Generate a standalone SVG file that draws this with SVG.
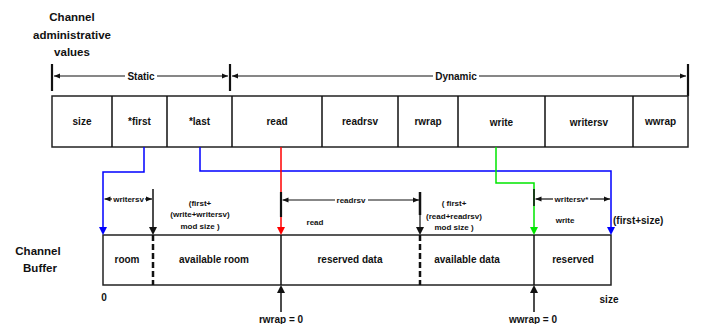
<svg xmlns="http://www.w3.org/2000/svg" width="704" height="324" viewBox="0 0 704 324">
<style>
text{font-family:"Liberation Sans",Arial,sans-serif;font-weight:bold;fill:#111;text-anchor:middle}
.t11{font-size:11.5px}
.t10{font-size:10px}
.t8{font-size:8px}
.ln{stroke:#111;stroke-width:1.2;fill:none}
.bx{stroke:#222;stroke-width:1.5;fill:#fff}
.tk{stroke:#111;stroke-width:2.2}
</style>
<defs>
<marker id="dm" viewBox="0 0 6 6" refX="6" refY="3" markerWidth="6" markerHeight="6" markerUnits="userSpaceOnUse" orient="auto"><path d="M0,0.5L6,3L0,5.5z" fill="#111"/></marker>
</defs>
<g id="title">
<text class="t11" x="72" y="21">Channel</text>
<text class="t11" x="72" y="39">administrative</text>
<text class="t11" x="72" y="56">values</text>
</g>
<g id="scope">
<line class="tk" x1="52" y1="64" x2="52" y2="91"/>
<line class="tk" x1="230" y1="64" x2="230" y2="91"/>
<line class="tk" x1="688" y1="64" x2="688" y2="96"/>
<line class="ln" x1="125" y1="76" x2="54" y2="76" marker-end="url(#dm)"/>
<line class="ln" x1="157" y1="76" x2="228" y2="76" marker-end="url(#dm)"/>
<text class="t10" x="141" y="80">Static</text>
<line class="ln" x1="433" y1="76" x2="232" y2="76" marker-end="url(#dm)"/>
<line class="ln" x1="479" y1="76" x2="686" y2="76" marker-end="url(#dm)"/>
<text class="t10" x="456" y="80">Dynamic</text>
</g>
<g id="admin">
<rect class="bx" x="52" y="96" width="636" height="51"/>
<path class="ln" d="M112,96V147M167,96V147M232,96V147M322,96V147M398,96V147M458,96V147M545,96V147M633,96V147" style="stroke-width:1.5"/>
<text class="t10" x="82" y="125">size</text>
<text class="t10" x="139.5" y="125">*first</text>
<text class="t10" x="199.5" y="125">*last</text>
<text class="t10" x="277" y="125">read</text>
<text class="t10" x="360" y="125">readrsv</text>
<text class="t10" x="428" y="125">rwrap</text>
<text class="t10" x="501.5" y="126">write</text>
<text class="t10" x="589" y="126">writersv</text>
<text class="t10" x="660.5" y="125">wwrap</text>
</g>
<g id="buffer">
<rect class="bx" x="103" y="235" width="508" height="50"/>
<line x1="153" y1="235" x2="153" y2="285" stroke="#111" stroke-width="2.5" stroke-dasharray="6,3"/>
<line x1="420" y1="235" x2="420" y2="285" stroke="#111" stroke-width="2.5" stroke-dasharray="6,3"/>
<line x1="281" y1="235" x2="281" y2="285" stroke="#111" stroke-width="1.5"/>
<line x1="534" y1="235" x2="534" y2="285" stroke="#111" stroke-width="1.5"/>
<text class="t10" x="127" y="263">room</text>
<text class="t10" x="214" y="263">available room</text>
<text class="t10" x="350" y="263">reserved data</text>
<text class="t10" x="467" y="263">available data</text>
<text class="t10" x="573" y="263">reserved</text>
<text class="t11" x="38" y="255">Channel</text>
<text class="t11" x="40" y="272">Buffer</text>
<text class="t10" x="104" y="301">0</text>
<text class="t10" x="609" y="303">size</text>
</g>
<g id="connectors">
<path d="M144,147V172H103V228" stroke="#0000ff" stroke-width="1.5" fill="none"/>
<path d="M99,227L107,227L103,235z" fill="#0000ff"/>
<path d="M200,147V171H611V228" stroke="#0000ff" stroke-width="1.5" fill="none"/>
<path d="M607,227L615,227L611,235z" fill="#0000ff"/>
<path d="M281,147V228" stroke="#ff0000" stroke-width="1.5" fill="none"/>
<path d="M277,227L285,227L281,235z" fill="#ff0000"/>
<path d="M496,147V183H534V228" stroke="#00e600" stroke-width="1.5" fill="none"/>
<path d="M530,227L538,227L534,235z" fill="#00e600"/>
<line x1="153" y1="189" x2="153" y2="228" stroke="#111" stroke-width="1.5"/>
<path d="M149,227L157,227L153,235z" fill="#111"/>
<line x1="281" y1="192" x2="281" y2="217" stroke="#111" stroke-width="2.2"/>
<line x1="420" y1="192" x2="420" y2="215" stroke="#111" stroke-width="2.5"/>
<line x1="420" y1="215" x2="420" y2="228" stroke="#111" stroke-width="1.2"/>
<path d="M416,227L424,227L420,235z" fill="#111"/>
<line x1="534" y1="189" x2="534" y2="206" stroke="#111" stroke-width="1.6"/>
<line class="ln" x1="112" y1="199" x2="104.5" y2="199" marker-end="url(#dm)"/>
<line class="ln" x1="145" y1="199" x2="152" y2="199" marker-end="url(#dm)"/>
<line class="ln" x1="335" y1="200" x2="282.5" y2="200" marker-end="url(#dm)"/>
<line class="ln" x1="368" y1="200" x2="419" y2="200" marker-end="url(#dm)"/>
<line class="ln" x1="553" y1="199" x2="535.5" y2="199" marker-end="url(#dm)"/>
<line class="ln" x1="590" y1="199" x2="610" y2="199" marker-end="url(#dm)"/>
<line x1="281" y1="312" x2="281" y2="292" stroke="#111" stroke-width="1.5"/>
<path d="M277,293L285,293L281,285z" fill="#111"/>
<line x1="534" y1="312" x2="534" y2="292" stroke="#111" stroke-width="1.5"/>
<path d="M530,293L538,293L534,285z" fill="#111"/>
</g>
<g id="labels">
<text class="t8" x="128.5" y="202">writersv</text>
<text class="t8" x="351" y="203">readrsv</text>
<text class="t8" x="571.5" y="202">writersv*</text>
<text class="t8" x="200" y="206">(first+</text>
<text class="t8" x="200" y="217">(write+writersv)</text>
<text class="t8" x="200" y="229">mod size )</text>
<text class="t8" x="454" y="206">( first+</text>
<text class="t8" x="454" y="219">(read+readrsv)</text>
<text class="t8" x="454" y="230">mod size )</text>
<text class="t8" x="315" y="225">read</text>
<text class="t8" x="565" y="223">write</text>
<text class="t10" x="613" y="224" style="text-anchor:start">(first+size)</text>
<text class="t10" x="281" y="323">rwrap = 0</text>
<text class="t10" x="533" y="323">wwrap = 0</text>
</g>
</svg>
